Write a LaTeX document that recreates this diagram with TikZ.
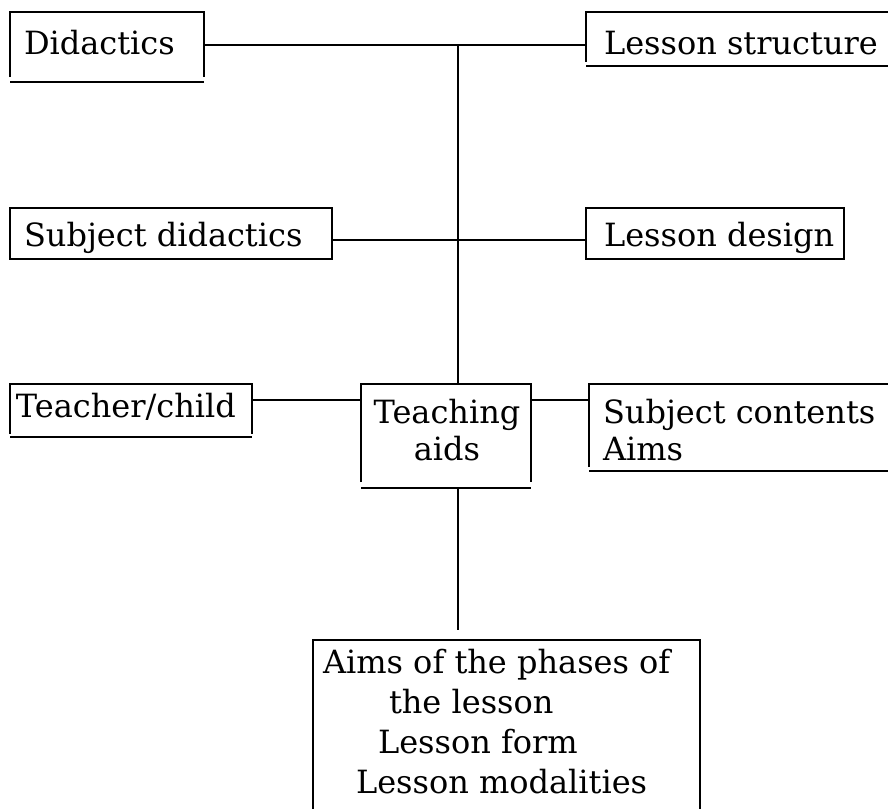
\documentclass[tikz,border=0pt]{standalone}
\usepackage{fontspec}
\setmainfont{DejaVu Serif}
\begin{document}
\begin{tikzpicture}[x=1pt,y=-1pt,
    line width=2pt,
    frame/.style={rectangle,draw=none,inner sep=0pt,anchor=north west},
    lbl/.style={inner sep=0pt,anchor=base west,font=\fontsize{32}{38}\selectfont},
    clbl/.style={inner sep=0pt,anchor=base,font=\fontsize{32}{38}\selectfont}]
\clip (0,0) rectangle (888,808);
\fill[white] (0,0) rectangle (888,808);

% box frames (top-left corner, size)
\node[frame,minimum width=192pt,minimum height=63pt] (did) at (10,12) {};
\node[frame,minimum width=309pt,minimum height=48pt] (lst) at (586,12) {};
\node[frame,minimum width=320pt,minimum height=49pt] (sdi) at (10,208) {};
\node[frame,minimum width=256pt,minimum height=49pt] (lde) at (586,208) {};
\node[frame,minimum width=240pt,minimum height=48pt] (tch) at (10,384) {};
\node[frame,minimum width=168pt,minimum height=96pt] (tai) at (361,384) {};
\node[frame,minimum width=306pt,minimum height=81pt] (sco) at (589,384) {};
\node[frame,minimum width=385pt,minimum height=175pt] (aph) at (313,640) {};

% open frames: sides and top, with the bottom rule set slightly lower
\foreach \b/\g in {did/5pt,lst/4pt,tch/3pt,tai/6pt,sco/4pt}{
  \draw (\b.south west) |- (\b.north east) -- (\b.south east);
  \draw ([yshift=-\g]\b.south west) -- ([yshift=-\g]\b.south east);
}
% closed frames
\draw (sdi.south west) rectangle (sdi.north east);
\draw (lde.south west) rectangle (lde.north east);
% frame without a bottom
\draw (aph.south west) |- (aph.north east) -- (aph.south east);

% labels
\node[lbl] (t-did) at (23,55) {Didactics};
\node[lbl] (t-lst) at (603,55) {Lesson structure};
\node[lbl] (t-sdi) at (23,246) {Subject didactics};
\node[lbl] (t-lde) at (603,246) {Lesson design};
\node[lbl] (t-tch) at (15,417) {Teacher/child};
\node[clbl] (t-tai1) at (447,423) {Teaching};
\node[clbl] (t-tai2) at (447,460) {aids};
\node[lbl] (t-sco1) at (602,423) {Subject contents};
\node[lbl] (t-sco2) at (602,460) {Aims};
\node[lbl] (t-aph1) at (322,673) {Aims of the phases of};
\node[lbl] (t-aph2) at (388,713) {the lesson};
\node[lbl] (t-aph3) at (377,753) {Lesson form};
\node[lbl] (t-aph4) at (355,793) {Lesson modalities};

% junction points on the central spine
\coordinate (j1) at (458,45);
\coordinate (j2) at (458,240);
\coordinate (j3) at (458,400);
\coordinate (j4) at (458,630);
\coordinate (tab) at ([yshift=-6pt]tai.south);

% connectors
\draw (did.east |- j1) -- (lst.west |- j1);
\draw (sdi.east |- j2) -- (lde.west |- j2);
\draw (j1) -- (j1 |- tai.north);
\draw (tch.east |- j3) -- (tai.west |- j3);
\draw (tai.east |- j3) -- (sco.west |- j3);
\draw (j4 |- tab) -- (j4);
\end{tikzpicture}
\end{document}
